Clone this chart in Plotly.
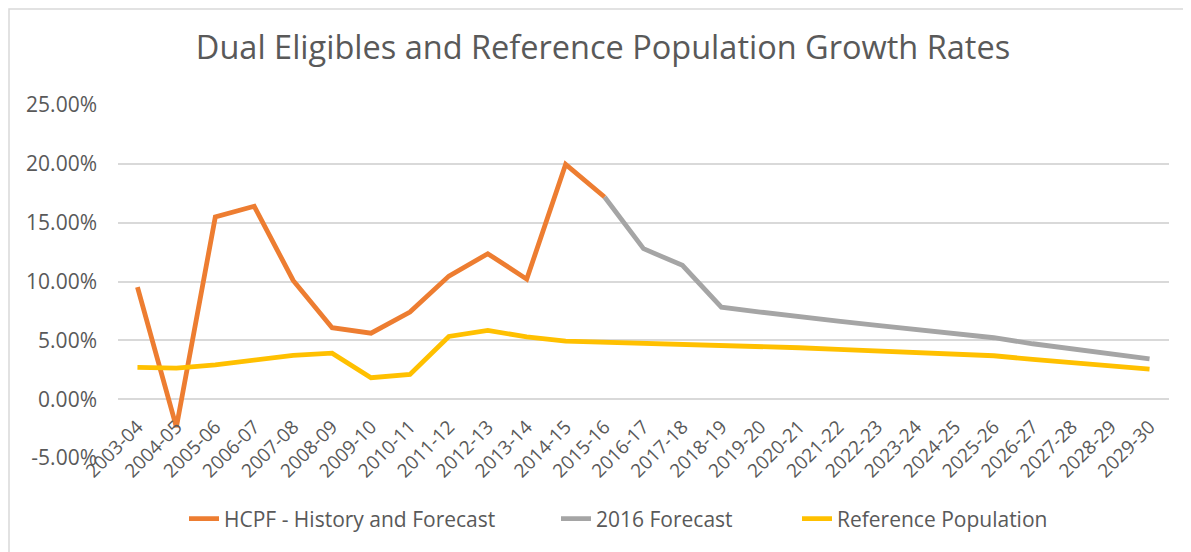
import plotly.graph_objects as go

categories = ["2003-04", "2004-05", "2005-06", "2006-07", "2007-08", "2008-09", "2009-10",
              "2010-11", "2011-12", "2012-13", "2013-14", "2014-15", "2015-16", "2016-17",
              "2017-18", "2018-19", "2019-20", "2020-21", "2021-22", "2022-23", "2023-24",
              "2024-25", "2025-26", "2026-27", "2027-28", "2028-29", "2029-30"]

hcpf = [0.0952, -0.0238, 0.1548, 0.1639, 0.1009, 0.0607, 0.0561, 0.0740, 0.1046, 0.1236,
        0.1020, 0.1996, 0.1718] + [None] * 14

forecast_2016 = [None] * 12 + [0.1718, 0.1279, 0.1137, 0.0782, 0.0740, 0.0697, 0.0663,
                               0.0627, 0.0590, 0.0561, 0.0522, 0.0471, 0.0429, 0.0386, 0.0343]

reference_pop = [0.0270, 0.0264, 0.0292, 0.0335, 0.0372, 0.0391, 0.0182, 0.0210, 0.0533,
                 0.0584, 0.0530, 0.0493, 0.0485, 0.0471, 0.0471, 0.0463, 0.0448, 0.0437,
                 0.0423, 0.0412, 0.0397, 0.0386, 0.0369, 0.0338, 0.0312, 0.0284, 0.0255]

y_ticks = [-0.05, 0.0, 0.05, 0.10, 0.15, 0.20, 0.25]
y_tick_labels = ["-5.00%", "0.00%", "5.00%", "10.00%", "15.00%", "20.00%", "25.00%"]

FONT = "Open Sans"
TXT = "#595959"
GRID = "#D9D9D9"
LW = 4.8

fig = go.Figure()
fig.add_trace(go.Scatter(x=categories, y=hcpf, mode="lines", name="HCPF - History and Forecast",
                         line=dict(color="#ED7D31", width=LW), legend="legend"))
fig.add_trace(go.Scatter(x=categories, y=forecast_2016, mode="lines", name="2016 Forecast",
                         line=dict(color="#A5A5A5", width=LW), legend="legend2"))
fig.add_trace(go.Scatter(x=categories, y=reference_pop, mode="lines", name="Reference Population",
                         line=dict(color="#FFC000", width=LW), legend="legend3"))

# page has an 8px body margin; figure is sized to fit the 1191x552 window
OFF = 8
W, H = 1191 - OFF, 552 - OFF
L, T = 118 - OFF, 105 - OFF
R = W - (1169 - OFF)
B = H - (458 - OFF)
pw, ph = W - L - R, H - T - B

leg_y = 1 - (519 - OFF) / H


def leg(px):
    return dict(orientation="h", x=(px - OFF) / W, xref="container", xanchor="left",
                y=leg_y, yref="container", yanchor="middle",
                font=dict(size=21, color=TXT), itemwidth=30, bgcolor="rgba(0,0,0,0)")


fig.update_layout(
    width=W, height=H,
    margin=dict(l=L, r=R, t=T, b=B, autoexpand=False),
    paper_bgcolor="white", plot_bgcolor="white",
    font=dict(family=FONT, color=TXT),
    title=dict(text="Dual Eligibles and Reference Population Growth Rates",
               x=(603 - OFF) / W, xref="container", xanchor="center",
               y=1 - (48 - OFF) / H, yref="container", yanchor="middle",
               font=dict(size=32.5, color=TXT, family=FONT)),
    xaxis=dict(type="category", range=[-0.5, 26.5], anchor="free", position=5 / 30,
               showgrid=False, showline=False, ticks="", tickangle=-45, automargin=False,
               tickfont=dict(size=19, color=TXT), ticklabelstandoff=12, zeroline=False),
    yaxis=dict(range=[-0.05, 0.25], tickvals=y_ticks, ticktext=y_tick_labels, automargin=False,
               showgrid=True, gridcolor=GRID, gridwidth=1.5,
               zeroline=True, zerolinecolor=GRID, zerolinewidth=1.5,
               showline=False, ticks="", tickfont=dict(size=21, color=TXT),
               ticklabelstandoff=20),
    legend=leg(184),
    legend2=leg(556),
    legend3=leg(797),
    showlegend=True,
)

fig.add_shape(type="rect", xref="paper", yref="paper",
              x0=(1 - L) / pw, x1=1.2, y0=-0.6, y1=1 + (T - 1) / ph,
              line=dict(color=GRID, width=1.5), fillcolor="rgba(0,0,0,0)", layer="below")

fig.write_html("out.html")
